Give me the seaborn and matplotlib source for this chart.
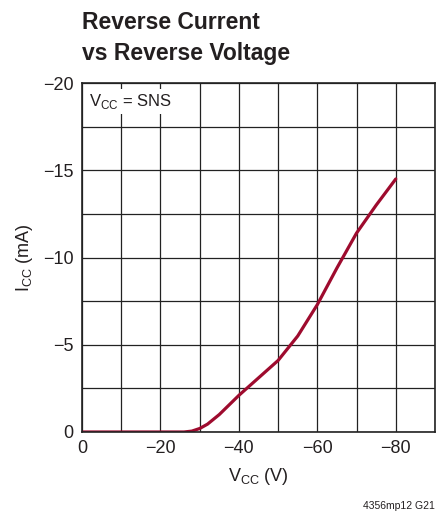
import matplotlib
matplotlib.use("Agg")
import matplotlib.pyplot as plt
import pandas as pd
import seaborn as sns

# reverse voltage (V) and reverse current (mA)
vcc = [0, -10, -20, -26, -28, -30, -32, -35, -40, -45, -50, -55, -60, -65, -70, -75, -80]
icc = [0, 0, 0, 0, -0.05, -0.2, -0.45, -1.0, -2.1, -3.1, -4.1, -5.5, -7.3, -9.4, -11.4, -13.0, -14.5]
x_ticks = [0, -20, -40, -60, -80]
y_ticks = [0, -5, -10, -15, -20]

df = pd.DataFrame({'vcc': vcc, 'icc': icc})

sns.set_style('white')
plt.rcParams['font.family'] = ['Liberation Sans', 'DejaVu Sans']
plt.rcParams['mathtext.fontset'] = 'custom'
plt.rcParams['mathtext.rm'] = 'Liberation Sans'

fig = plt.figure(figsize=(4.46, 5.16), dpi=100)
ax = fig.add_axes([0.1839, 0.1628, 0.7914, 0.6763])

sns.lineplot(data=df, x='vcc', y='icc', ax=ax, color='#9E0B2E', linewidth=2.3)

ax.set_xlim(0, -90)
ax.set_ylim(0, -20)
ax.set_xticks(range(0, -91, -10), minor=True)
ax.set_yticks([-2.5 * i for i in range(9)], minor=True)
ax.set_xticks(x_ticks)
ax.set_yticks(y_ticks)
ax.set_xticklabels(['0' if t == 0 else '\u2212%d' % -t for t in x_ticks], fontsize=13)
ax.set_yticklabels(['0' if t == 0 else '\u2212%d' % -t for t in y_ticks], fontsize=13)
ax.tick_params(which='both', length=0, pad=6, colors='#231F20')
ax.grid(which='both', color='#222222', linewidth=0.9)
for s in ax.spines.values():
    s.set_color('#222222')
    s.set_linewidth(1.2)

ax.set_xlabel(r'V$_{\mathregular{CC}}$ (V)', fontsize=13, labelpad=6, color='#231F20')
ax.set_ylabel(r'I$_{\mathregular{CC}}$ (mA)', fontsize=13, labelpad=6, color='#231F20')

ax.text(0.02, 0.975, r'V$_{\mathregular{CC}}$ = SNS', transform=ax.transAxes,
        fontsize=12, va='top', ha='left', color='#231F20',
        bbox=dict(facecolor='white', edgecolor='none', pad=2))

fig.text(0.184, 0.978, 'Reverse Current\nvs Reverse Voltage', fontsize=16.5,
         fontweight='bold', va='top', ha='left', linespacing=1.4, color='#231F20')
fig.text(0.975, 0.01, '4356mp12 G21', fontsize=7.5, ha='right', va='bottom', color='#231F20')

fig.savefig('out.png', dpi=100)
